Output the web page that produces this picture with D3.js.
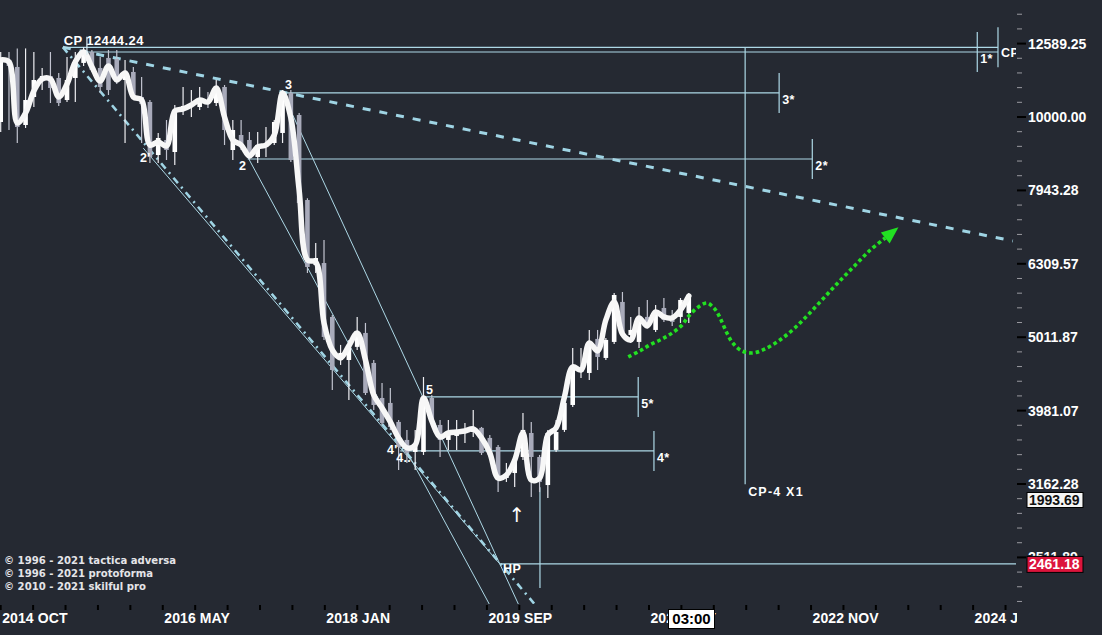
<!DOCTYPE html>
<html>
<head>
<meta charset="utf-8">
<script src="https://cdn.jsdelivr.net/npm/d3@7/dist/d3.min.js"></script>
<style>
  html, body { margin: 0; padding: 0; background: #252932; overflow: hidden; }
  svg { display: block; }
</style>
</head>
<body>
<svg id="chart" width="1102" height="635"></svg>
<script>
// ---------- DATA (monthly candles, index 0 = 2014 OCT) ----------
const opens = [9844,11960,11699,9752,10648,11230,11373,11302,10547,11302,
  11848,12262,11662,12035,11998,11230,11517,10648,10482,8876,
  9304,8960,10222,10352,10319,10547,10449,10987,9016,9451,
  9304,8821,9102,9217,9511,10783,10063,7707,6286,6325,
  5340,4666,4666,4862,5079,4623,4142,4078,3842,3631,
  3497,3497,4142,3806,3631,3677,3711,3723,3771,3654,
  3552,3222,3273,3442,3711,3442,3152,3519,3747,4052,
  4494,4480,4985,4696,4938,5598,5047,4938,5341,5127,
  5493,5324,5341,5408];
const highs = [12262,12262,12400,12400,12262,11662,12262,11481,12073,12262,
  12444.24,12338,12073,12338,12338,11960,11699,11337,10547,9511,
  9906,10384,10987,10884,10987,10816,11230,11056,9906,9906,
  9540,9540,9691,9906,10884,10884,10127,7750,6735,6799,
  5374,4892,4969,5341,5241,4666,4341,4274,3866,3747,
  3747,4424,4181,3866,3866,3866,3830,3989,3782,3688,
  3574,3377,3464,3952,3842,3464,3747,3866,4221,4846,
  4846,5127,5127,5000,5757,5775,5341,5511,5633,5545,
  5668,5459,5668,5757];
const lows = [9540,9600,9217,9661,10319,10884,10449,10352,10482,10482,
  11736,11517,10783,10715,11091,9217,10581,9217,8656,8656,
  8738,8602,10063,10000,10222,10287,10352,9159,8738,9016,
  8738,8656,8821,9159,9217,8684,7586,6130,6130,4969,
  4247,4594,4116,4816,4181,3989,3806,3747,3304,3377,
  3304,3464,3806,3442,3519,3519,3597,3665,3464,3409,
  3083,3182,3132,3409,3035,3083,3026,3497,3723,4027,
  4410,4382,4522,4666,4907,5000,4923,4846,5160,5095,
  5258,5192,5241,5241];
const closes = [11960,11736,9691,10547,11230,11373,10953,10449,11230,11848,
  12224,11589,10987,10884,11160,11445,10648,10417,8821,9363,
  9016,10222,10352,10417,10547,10449,10953,9600,9600,9130,
  8821,9159,9217,9844,10783,8738,7634,6247,6425,5016,
  4522,4771,4846,5079,4207,4052,3830,3782,3552,3486,
  3563,4155,3866,3631,3711,3735,3747,3771,3486,3464,
  3202,3263,3409,3747,3442,3182,3711,3723,4078,4565,
  4551,4938,4711,4969,5721,5047,5127,5341,5208,5425,
  5291,5258,5633,5721];
// smoothed close line (white)
const trend = [11960,11885,9814,10127,10850,11265,11265,10648,11091,11885,
  12262,11700,11195,11736,11230,11481,10648,10547,9159,9246,
  9130,10190,10255,10384,10547,10482,10953,10000,9304,9159,
  8848,9102,9159,9451,10782,9969,7953,6385,6345,5241,
  4816,4696,4877,5079,4666,4181,4014,3842,3654,3541,
  3574,4142,3854,3665,3711,3723,3735,3759,3654,3486,
  3222,3253,3409,3711,3202,3222,3688,3771,4155,4565,
  4522,4923,4801,5291,5598,5063,4969,5324,5192,5425,
  5341,5324,5459,5703];

// x axis
const xLabels = ["2014 OCT","2016 MAY","2018 JAN","2019 SEP","2021 MAY","2022 NOV","2024 JUN"];
const xLabelPos = [0, 19.55, 39.1, 58.65, 78.2, 97.75, 117.3];
// y axis (log)
const yMajorTicks = [12589.25, 10000.00, 7943.28, 6309.57, 5011.87, 3981.07, 3162.28, 2511.89];

// forecast path (green dotted)
const forecastX = [75.7,77.1,78.3,79.8,81.0,82.2,82.9,84.0,85.2,85.9,86.4,87.0,87.6,88.3,89.4,90.8,92.2,94.0,95.8,97.6,99.4,101.2,103.1,104.9,106.7];
const forecastY = [4711,4801,4892,4985,5079,5208,5341,5493,5580,5510,5425,5258,5079,4923,4801,4771,4831,4969,5160,5408,5686,5978,6286,6589,6842];

// annotation levels
const cpPrice = 12444.24;
const topLevelPrices = [12444.24, 12262];
const topLevelFrom = [7.5, 9.9];
const topLevelTo = 120.3;
const topMarkerNames = ["1*", "CP"];
const topMarkerX = [117.8, 120.3];
const topMarkerPrice = [12262, 12444.24];

const levelNames = ["3*", "2*", "5*", "4*"];
const levelPrices = [10783, 8765, 4155, 3508];
const levelFrom = [34.0, 29.8, 50.9, 48.2];
const levelTo = [93.9, 97.9, 76.9, 78.8];

const hpPrice = 2461.18;
const hpFrom = 60.2, hpTo = 122.6;
const cpVertX = 89.8, cpVertLow = 3160;
const lowVertX = 65.05, lowVertFrom = 3130, lowVertTo = 2282;

const thinFromX = [17.2, 29.8, 34.0];
const thinFromP = [9070, 8821, 10783];
const thinToX = [60.2, 59.0, 62.5];
const thinToP = [2461.18, 2163, 2163];
const dashAX = [7.5, 122.1], dashAP = [12444.24, 6778];
const dashBX = [7.5, 64.5], dashBP = [12444.24, 2163];

const waveNames = ["2'", "2", "3", "4'", "4..", "5", "HP"];
const waveX = [16.8, 28.75, 34.3, 46.6, 47.7, 51.3, 60.6];
const waveP = [8684, 8468, 10918, 3475, 3388, 4194, 2395];

const copyrights = ["© 1996 - 2021 tactica adversa", "© 1996 - 2021 protoforma", "© 2010 - 2021 skilful pro"];

// ---------- DRAW ----------
const BG = "#252932", LB = "#add8e6";
const svg = d3.select("#chart");
svg.append("rect").attr("width", 1102).attr("height", 635).attr("fill", BG);
const defs = svg.append("defs");
defs.append("clipPath").attr("id", "plotClip").append("rect")
  .attr("x", 0).attr("y", 0).attr("width", 1016).attr("height", 604);
defs.append("clipPath").attr("id", "xClip").append("rect")
  .attr("x", 0).attr("y", 598).attr("width", 1017).attr("height", 37);

const x = d3.scaleLinear().domain([0, 122.6]).range([0.7, 0.7 + 122.6 * 8.29]);
const y = d3.scaleLog().domain([14434, 2163.5]).range([0, 605]);

const plot = svg.append("g").attr("clip-path", "url(#plotClip)");
const idx = d3.range(opens.length);
const up = i => closes[i] >= opens[i];

// annotation lines
const ann = plot.append("g").attr("stroke", LB).attr("fill", "none");
ann.append("line").attr("x1", x(dashAX[0])).attr("y1", y(dashAP[0])).attr("x2", x(dashAX[1])).attr("y2", y(dashAP[1]))
  .attr("stroke-width", 3).attr("stroke-dasharray", "8,9").attr("stroke", "#9fd4e4");
ann.append("line").attr("x1", x(dashBX[0])).attr("y1", y(dashBP[0])).attr("x2", x(dashBX[1])).attr("y2", y(dashBP[1]))
  .attr("stroke-width", 2.6).attr("stroke-dasharray", "7,5,2,5").attr("stroke", "#9fd4e4");
thinFromX.forEach((fx, i) => {
  ann.append("line").attr("x1", x(fx)).attr("y1", y(thinFromP[i])).attr("x2", x(thinToX[i])).attr("y2", y(thinToP[i]))
    .attr("stroke-width", 1);
});
topLevelPrices.forEach((p, i) => {
  ann.append("line").attr("x1", x(topLevelFrom[i])).attr("x2", x(topLevelTo))
    .attr("y1", y(p)).attr("y2", y(p)).attr("stroke-width", 1.2);
});
topMarkerX.forEach((mx, i) => {
  const yy = y(topMarkerPrice[i]);
  ann.append("line").attr("x1", x(mx)).attr("x2", x(mx)).attr("y1", yy - 20).attr("y2", yy + 20).attr("stroke-width", 1.2);
});
levelPrices.forEach((p, i) => {
  const yy = y(p);
  ann.append("line").attr("x1", x(levelFrom[i])).attr("x2", x(levelTo[i])).attr("y1", yy).attr("y2", yy).attr("stroke-width", 1.2);
  ann.append("line").attr("x1", x(levelTo[i])).attr("x2", x(levelTo[i])).attr("y1", yy - 20).attr("y2", yy + 20).attr("stroke-width", 1.2);
});
ann.append("line").attr("x1", x(hpFrom)).attr("x2", x(hpTo)).attr("y1", y(hpPrice)).attr("y2", y(hpPrice)).attr("stroke-width", 1.2);
ann.append("line").attr("x1", x(cpVertX)).attr("x2", x(cpVertX)).attr("y1", y(cpPrice)).attr("y2", y(cpVertLow)).attr("stroke-width", 1.2);
ann.append("line").attr("x1", x(lowVertX)).attr("x2", x(lowVertX)).attr("y1", y(lowVertFrom)).attr("y2", y(lowVertTo)).attr("stroke-width", 1.2);

// candles
plot.append("g").selectAll("line").data(idx).join("line")
  .attr("x1", i => x(i)).attr("x2", i => x(i))
  .attr("y1", i => y(highs[i])).attr("y2", i => y(lows[i]))
  .attr("stroke", i => up(i) ? "#eeeef2" : "#c2c4d0").attr("stroke-width", 1.2);
plot.append("g").selectAll("rect").data(idx).join("rect")
  .attr("x", i => x(i) - 2.3).attr("width", 4.6)
  .attr("y", i => Math.min(y(opens[i]), y(closes[i])))
  .attr("height", i => Math.max(1, Math.abs(y(opens[i]) - y(closes[i]))))
  .attr("fill", i => up(i) ? "#ffffff" : "#a8aaba");

// white smoothed line
plot.append("path").datum(trend)
  .attr("d", d3.line().x((d, i) => x(i)).y(d => y(d)).curve(d3.curveCatmullRom.alpha(0.5)))
  .attr("fill", "none").attr("stroke", "#f7f7f7").attr("stroke-width", 5.5)
  .attr("stroke-linejoin", "round").attr("stroke-linecap", "round");

// forecast green dotted path + arrowhead
const fpts = forecastX.map((fx, i) => [x(fx), y(forecastY[i])]);
plot.append("path").datum(fpts)
  .attr("d", d3.line().curve(d3.curveCatmullRom.alpha(0.5)))
  .attr("fill", "none").attr("stroke", "#22e022").attr("stroke-width", 3.6)
  .attr("stroke-dasharray", "3.6,3");
{
  const a = fpts[fpts.length - 2], b = fpts[fpts.length - 1];
  const dx = b[0] - a[0], dy = b[1] - a[1], L = Math.hypot(dx, dy);
  const ux = dx / L, uy = dy / L, px = -uy, py = ux;
  const tip = [b[0] + ux * 17, b[1] + uy * 17];
  plot.append("path")
    .attr("d", `M${tip[0]},${tip[1]}L${b[0] + px * 7},${b[1] + py * 7}L${b[0] - px * 7},${b[1] - py * 7}Z`)
    .attr("fill", "#22e022");
}

// annotation texts
const txt = plot.append("g").attr("fill", "#ffffff").attr("font-family", "'Liberation Sans', Arial, sans-serif")
  .attr("font-weight", "bold").attr("font-size", 12.5).attr("letter-spacing", 0.4);
txt.append("text").attr("x", x(7.6)).attr("y", y(cpPrice) - 2).attr("font-size", 13).text("CP 12444.24");
waveNames.forEach((w, i) => txt.append("text").attr("x", x(waveX[i])).attr("y", y(waveP[i])).text(w));
levelNames.forEach((w, i) => txt.append("text").attr("x", x(levelTo[i]) + 3).attr("y", y(levelPrices[i]) + 11).text(w));
topMarkerNames.forEach((w, i) => txt.append("text").attr("x", x(topMarkerX[i]) + 3).attr("y", y(topMarkerPrice[i]) + (i === 0 ? 11 : 10)).text(w));
txt.append("text").attr("x", x(cpVertX) + 3).attr("y", y(cpVertLow) + 12).attr("letter-spacing", 1.2).text("CP-4 X1");
txt.append("text").attr("x", x(62.3)).attr("y", 522).attr("text-anchor", "middle")
  .attr("font-family", "'DejaVu Sans', sans-serif").attr("font-weight", "normal").attr("font-size", 20).text("↑");
// small CP tick
plot.append("line").attr("x1", x(10.4)).attr("x2", x(10.4)).attr("y1", y(12860)).attr("y2", y(12150))
  .attr("stroke", "#dfeff5").attr("stroke-width", 1.2);

// copyrights
svg.append("g").selectAll("text").data(copyrights).join("text")
  .attr("x", 4).attr("y", (d, i) => 564 + i * 13)
  .attr("fill", "#e4e4e8").attr("font-family", "'DejaVu Sans', sans-serif").attr("font-weight", "bold")
  .attr("font-size", 10.1).text(d => d);

// ---------- Y AXIS ----------
const yAxis = svg.append("g");
d3.range(166, 209).forEach(k => {
  const v = Math.pow(10, k / 50), yy = y(v);
  if (yy < 0 || yy > 604) return;
  const major = k % 5 === 0;
  yAxis.append("line").attr("x1", 1017).attr("x2", major ? 1026 : 1022).attr("y1", yy).attr("y2", yy)
    .attr("stroke", major ? "#000" : "#9a9aa0").attr("stroke-width", major ? 2 : 1);
});
yAxis.selectAll("text").data(yMajorTicks).join("text")
  .attr("x", 1028).attr("y", d => y(d)).attr("dy", "0.36em")
  .attr("fill", "#fff").attr("font-family", "'Liberation Sans', Arial, sans-serif").attr("font-weight", "bold")
  .attr("font-size", 14).text(d => d.toFixed(2));
// price boxes
yAxis.append("rect").attr("x", 1027).attr("y", 492.5).attr("width", 56).attr("height", 15)
  .attr("fill", "#f5f5f5").attr("stroke", "#000");
yAxis.append("text").attr("x", 1029).attr("y", 505).attr("fill", "#111").attr("font-family", "'Liberation Sans', Arial, sans-serif")
  .attr("font-weight", "bold").attr("font-size", 14).text("1993.69");
yAxis.append("rect").attr("x", 1027).attr("y", y(hpPrice) - 7.5).attr("width", 56).attr("height", 16)
  .attr("fill", "#dc143c").attr("stroke", "#000");
yAxis.append("text").attr("x", 1029).attr("y", y(hpPrice) + 5.5).attr("fill", "#fff").attr("font-family", "'Liberation Sans', Arial, sans-serif")
  .attr("font-weight", "bold").attr("font-size", 14).text(hpPrice.toFixed(2));

// ---------- X AXIS ----------
const xAxis = svg.append("g").attr("clip-path", "url(#xClip)");
d3.range(0, 124, 3.91).forEach(t => {
  xAxis.append("line").attr("x1", x(t)).attr("x2", x(t)).attr("y1", 605).attr("y2", 610)
    .attr("stroke", "#000").attr("stroke-width", 2);
});
xAxis.selectAll("text").data(xLabels).join("text")
  .attr("x", (d, i) => x(xLabelPos[i]) + 1.5).attr("y", 623)
  .attr("fill", "#fff").attr("font-family", "'Liberation Sans Narrow', 'Liberation Sans', sans-serif")
  .attr("font-weight", "bold").attr("font-size", 14).attr("letter-spacing", 0.1).text(d => d);
// time box
svg.append("rect").attr("x", 668.5).attr("y", 609.5).attr("width", 46).attr("height", 19)
  .attr("fill", "#fff").attr("stroke", "#000");
svg.append("text").attr("x", 691.5).attr("y", 624).attr("text-anchor", "middle").attr("fill", "#000")
  .attr("font-family", "'Liberation Sans Narrow', 'Liberation Sans', sans-serif").attr("font-weight", "bold")
  .attr("font-size", 15).text("03:00");
</script>
</body>
</html>
